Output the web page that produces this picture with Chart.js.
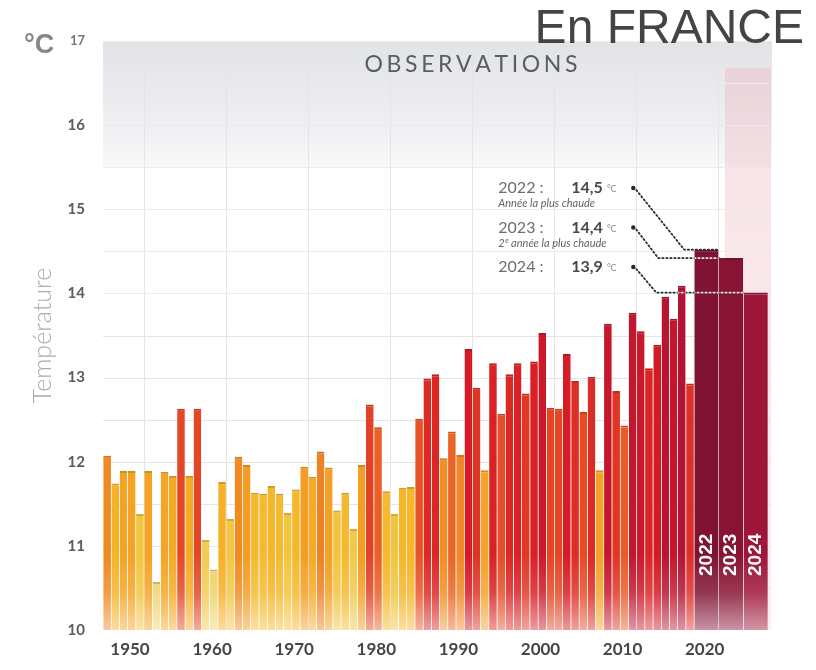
<!DOCTYPE html>
<html>
<head>
<meta charset="utf-8">
<style>
  html, body { margin: 0; padding: 0; background: #fff; }
  canvas { display: block; }
</style>
<script src="https://cdn.jsdelivr.net/npm/chart.js@4.4.1/dist/chart.umd.min.js"></script>
</head>
<body>
<canvas id="c" width="816" height="670"></canvas>
<script>
// ---------- DATA ----------
const years = [1950,1951,1952,1953,1954,1955,1956,1957,1958,1959,
               1960,1961,1962,1963,1964,1965,1966,1967,1968,1969,
               1970,1971,1972,1973,1974,1975,1976,1977,1978,1979,
               1980,1981,1982,1983,1984,1985,1986,1987,1988,1989,
               1990,1991,1992,1993,1994,1995,1996,1997,1998,1999,
               2000,2001,2002,2003,2004,2005,2006,2007,2008,2009,
               2010,2011,2012,2013,2014,2015,2016,2017,2018,2019,
               2020,2021];
const temps = [12.07,11.74,11.89,11.89,11.38,11.89,10.57,11.88,11.83,12.63,
               11.83,12.63,11.07,10.72,11.76,11.32,12.06,11.96,11.63,11.62,
               11.71,11.62,11.39,11.67,11.94,11.82,12.12,11.93,11.42,11.63,
               11.20,11.96,12.68,12.41,11.65,11.38,11.69,11.70,12.51,12.99,
               13.04,12.04,12.36,12.08,13.34,12.88,11.90,13.17,12.57,13.04,
               13.17,12.81,13.19,13.53,12.64,12.63,13.28,12.96,12.59,13.01,
               11.90,13.64,12.84,12.43,13.77,13.55,13.11,13.39,13.96,13.70,
               14.09,12.93];
const recentYears = [2022, 2023, 2024];
const recentTemps = [14.52, 14.42, 14.01];
const recentLabels = ['14,5', '14,4', '13,9'];
const recentNotes = ['Année la plus chaude', '2e année la plus chaude', ''];
const xTickLabels = [1950, 1960, 1970, 1980, 1990, 2000, 2010, 2020];
const yTickLabels = [10, 11, 12, 13, 14, 15, 16, 17];

// ---------- STYLE ----------
const colorStops = [
  [10.5, [236,214,120]], [11.0, [240,204,86]], [11.4, [243,196,62]],
  [11.7, [246,182,42]],  [11.95,[244,158,36]], [12.1, [239,132,36]],
  [12.4, [233,96,38]],   [12.7, [226,64,38]],  [13.0, [221,42,36]],
  [13.3, [214,28,38]],   [13.6, [200,24,44]],  [14.1, [178,20,52]]
];
const recentColors = [[128,18,52], [136,20,52], [158,22,56]];

function colorFor(v) {
  if (v <= colorStops[0][0]) return colorStops[0][1];
  for (let i = 1; i < colorStops.length; i++) {
    if (v <= colorStops[i][0]) {
      const [v0, c0] = colorStops[i-1], [v1, c1] = colorStops[i];
      const t = (v - v0) / (v1 - v0);
      return c0.map((c, k) => Math.round(c + (c1[k] - c) * t));
    }
  }
  return colorStops[colorStops.length-1][1];
}
const rgbStr = (c, a = 1) => `rgba(${c[0]},${c[1]},${c[2]},${a})`;
const mixWhite = (c, t) => c.map(v => Math.round(v + (255 - v) * t));
const darken = (c, f) => c.map(v => Math.round(v * f));

function barFill(ctx, rgb) {
  const area = ctx.chart.chartArea;
  if (!area) return rgbStr(rgb);
  const g = ctx.chart.ctx.createLinearGradient(0, area.bottom - 75, 0, area.bottom);
  g.addColorStop(0, rgbStr(rgb));
  g.addColorStop(0.5, rgbStr(mixWhite(rgb, 0.15)));
  g.addColorStop(1, rgbStr(mixWhite(rgb, 0.55)));
  return g;
}

const firstYear = years[0];
const lastYear = years[years.length - 1];
const wideSlot = i => lastYear + 2 + 3 * i;   // wide bars take 3 year-slots each

// ---------- PLUGINS ----------
const decor = {
  id: 'decor',
  beforeDraw(chart) {
    const { ctx, chartArea: a, scales: { x, y } } = chart;
    ctx.save();
    ctx.fillStyle = '#fff';
    ctx.fillRect(0, 0, chart.width, chart.height);
    // grey band on top
    const yb = y.getPixelForValue(15.5);
    const g = ctx.createLinearGradient(0, a.top, 0, yb);
    g.addColorStop(0, 'rgb(226,227,231)');
    g.addColorStop(0.6, 'rgb(238,238,241)');
    g.addColorStop(1, 'rgb(248,248,249)');
    ctx.fillStyle = g;
    ctx.fillRect(a.left, a.top, a.right - a.left + 4, yb - a.top);
    // pink strip on the right
    const px = x.getPixelForValue(wideSlot(1) - 0.75);
    const py = y.getPixelForValue(16.68);
    const pg = ctx.createLinearGradient(0, py, 0, a.bottom);
    pg.addColorStop(0, 'rgba(236,178,188,0.38)');
    pg.addColorStop(1, 'rgba(236,190,198,0.25)');
    ctx.fillStyle = pg;
    ctx.fillRect(px, py, a.right + 3 - px, a.bottom - py);
    // faint grey horizontal grid lines in the background
    ctx.strokeStyle = 'rgb(228,228,232)';
    ctx.lineWidth = 1;
    y.ticks.forEach(t => {
      if (t.value <= 10 || t.value >= 17) return;
      const yy = Math.round(y.getPixelForValue(t.value)) + 0.5;
      ctx.beginPath(); ctx.moveTo(a.left, yy); ctx.lineTo(a.right + 3, yy); ctx.stroke();
    });
    ctx.restore();
  },
  afterDraw(chart) {
    const { ctx, chartArea: a, scales: { x, y } } = chart;
    const narrow = chart.getDatasetMeta(0).data;
    const wide = chart.getDatasetMeta(1).data;
    ctx.save();

    // Title "En FRANCE"
    ctx.font = '48px "Liberation Sans"';
    ctx.fillStyle = 'rgb(68,68,68)';
    ctx.textAlign = 'right';
    ctx.textBaseline = 'alphabetic';
    ctx.fillText('En FRANCE', 804, 43);

    // °C unit
    ctx.font = 'bold 27px "Liberation Sans"';
    ctx.fillStyle = 'rgb(135,135,135)';
    ctx.textAlign = 'left';
    ctx.fillText('°C', 24, 53);

    // OBSERVATIONS (letter-spaced)
    const word = 'OBSERVATIONS';
    ctx.font = '23px Lato';
    ctx.fillStyle = 'rgb(88,94,100)';
    const widths = [...word].map(ch => ctx.measureText(ch).width);
    const total = 213;
    const sp = (total - widths.reduce((s, w) => s + w, 0)) / (word.length - 1);
    let cx = 471 - total / 2;
    [...word].forEach((ch, i) => { ctx.fillText(ch, cx, 72); cx += widths[i] + sp; });

    // vertical year labels inside the wide bars
    wide.forEach((b, i) => {
      ctx.save();
      ctx.translate(b.x, a.bottom - 54);
      ctx.rotate(-Math.PI / 2);
      ctx.font = 'bold 19px "Liberation Sans"';
      ctx.fillStyle = '#fff';
      ctx.textAlign = 'left';
      ctx.textBaseline = 'middle';
      ctx.fillText(String(recentYears[i]), 0, 0);
      ctx.restore();
    });

    // annotations
    const L = wide[0].x - wide[0].width / 2;
    const x0 = L - 196, xv = L - 123, xd = L - 61;
    const bends = [L - 10, L - 36, L - 38];
    const ends = [wide[0].x + wide[0].width / 2, wide[1].x - wide[1].width / 2, wide[2].x - wide[2].width / 2];
    const paths = [];
    recentYears.forEach((yr, i) => {
      const by = a.top + 152 + 39.5 * i;
      ctx.textAlign = 'left';
      ctx.textBaseline = 'alphabetic';
      ctx.font = '16px Lato';
      ctx.fillStyle = 'rgb(110,110,110)';
      ctx.fillText(yr + ' :', x0, by);
      ctx.font = 'bold 16px Lato';
      ctx.fillStyle = 'rgb(72,72,72)';
      ctx.fillText(recentLabels[i], xv, by);
      const vw = ctx.measureText(recentLabels[i]).width;
      ctx.font = '9px Lato';
      ctx.fillStyle = 'rgb(140,140,140)';
      ctx.fillText('°C', xv + vw + 4, by - 1);
      // dot
      ctx.fillStyle = 'rgb(40,40,40)';
      ctx.beginPath(); ctx.arc(xd, by - 5, 2.2, 0, Math.PI * 2); ctx.fill();
      // note
      const note = recentNotes[i];
      if (note) {
        ctx.font = 'italic 11px Lato';
        ctx.fillStyle = 'rgb(100,100,100)';
        if (note.startsWith('2e')) {
          ctx.fillText('2', x0, by + 14);
          const w2 = ctx.measureText('2').width;
          ctx.font = 'italic 7px Lato';
          ctx.fillText('e', x0 + w2 + 0.5, by + 10);
          const we = ctx.measureText('e').width;
          ctx.font = 'italic 11px Lato';
          ctx.fillText(note.slice(2), x0 + w2 + we + 0.5, by + 14);
        } else {
          ctx.fillText(note, x0, by + 14);
        }
      }
      const ly = y.getPixelForValue(recentTemps[i]);
      paths.push([[xd + 3, by - 3], [bends[i], ly], [ends[i], ly]]);
    });
    const strokePaths = (color) => {
      ctx.setLineDash([1.4, 2.6]);
      ctx.lineCap = 'round';
      ctx.lineWidth = 1.8;
      ctx.strokeStyle = color;
      paths.forEach(p => {
        ctx.beginPath(); ctx.moveTo(p[0][0], p[0][1]);
        ctx.lineTo(p[1][0], p[1][1]); ctx.lineTo(p[2][0], p[2][1]);
        ctx.stroke();
      });
    };
    strokePaths('rgb(45,45,45)');
    // dotted segments over bars appear light
    ctx.save();
    ctx.beginPath();
    [...narrow, ...wide].forEach(b => {
      ctx.rect(b.x - b.width / 2, b.y + 1.5, b.width, a.bottom - b.y);
    });
    ctx.clip();
    strokePaths('rgba(255,235,238,0.95)');
    ctx.restore();

    ctx.restore();
  }
};

// ---------- CHART ----------
const tickFont = { family: 'Lato', size: 15, weight: 'bold' };
new Chart(document.getElementById('c'), {
  type: 'bar',
  data: {
    datasets: [
      {
        label: 'Observations',
        data: years.map((yr, i) => ({ x: yr, y: temps[i] })),
        backgroundColor: c => c.type === 'data' ? barFill(c, colorFor(c.raw.y)) : '#e33',
        borderColor: c => c.type === 'data' ? rgbStr(darken(colorFor(c.raw.y), 0.86)) : '#c22',
        borderWidth: { top: 2, left: 0, right: 0, bottom: 0 },
        grouped: false,
        barPercentage: 0.94,
        categoryPercentage: 1
      },
      {
        label: 'Récent',
        data: recentYears.map((yr, i) => ({ x: wideSlot(i), y: recentTemps[i] })),
        backgroundColor: c => c.type === 'data' ? barFill(c, recentColors[c.dataIndex]) : '#822',
        borderColor: c => c.type === 'data' ? rgbStr(darken(recentColors[c.dataIndex], 0.85)) : '#711',
        borderWidth: { top: 2, left: 0, right: 0, bottom: 0 },
        grouped: false,
        barPercentage: 0.985,
        categoryPercentage: 3
      }
    ]
  },
  options: {
    responsive: false,
    animation: false,
    devicePixelRatio: 1,
    layout: { padding: { left: 0, right: 48, top: 41, bottom: 0 } },
    plugins: { legend: { display: false }, tooltip: { enabled: false } },
    scales: {
      x: {
        type: 'linear',
        min: firstYear - 0.5,
        max: wideSlot(2) + 1.5,
        offset: false,
        afterBuildTicks: s => { s.ticks = xTickLabels.map(v => ({ value: v - 0.5 })); },
        afterFit: s => { s.height = 40; },
        ticks: {
          callback: v => String(Math.round(v + 0.5)),
          labelOffset: 27,
          padding: 9,
          autoSkip: false,
          maxRotation: 0,
          color: 'rgb(70,70,70)',
          font: { family: 'Lato', size: 17, weight: 'bold' }
        },
        grid: { color: 'rgb(228,228,232)', drawTicks: false, lineWidth: 1 },
        border: { display: false }
      },
      y: {
        min: 10,
        max: 17,
        z: 1,
        afterFit: s => { s.width = 103; },
        ticks: {
          stepSize: 0.5,
          autoSkip: false,
          callback: v => yTickLabels.includes(v) ? String(v) : '',
          padding: 18,
          color: c => (c.tick && c.tick.value === 17) ? 'rgb(120,120,120)' : 'rgb(92,92,92)',
          font: c => (c.tick && c.tick.value === 17) ? { family: 'Lato', size: 13, weight: 'bold' } : tickFont
        },
        grid: { color: 'rgba(255,255,255,0.28)', drawTicks: false, lineWidth: 1 },
        border: { display: false },
        title: {
          display: true,
          text: 'Température',
          color: 'rgb(172,172,175)',
          font: { family: 'Lato', size: 25, weight: '300' },
          padding: { top: 28, bottom: 0 }
        }
      }
    }
  },
  plugins: [decor]
});
</script>
</body>
</html>
